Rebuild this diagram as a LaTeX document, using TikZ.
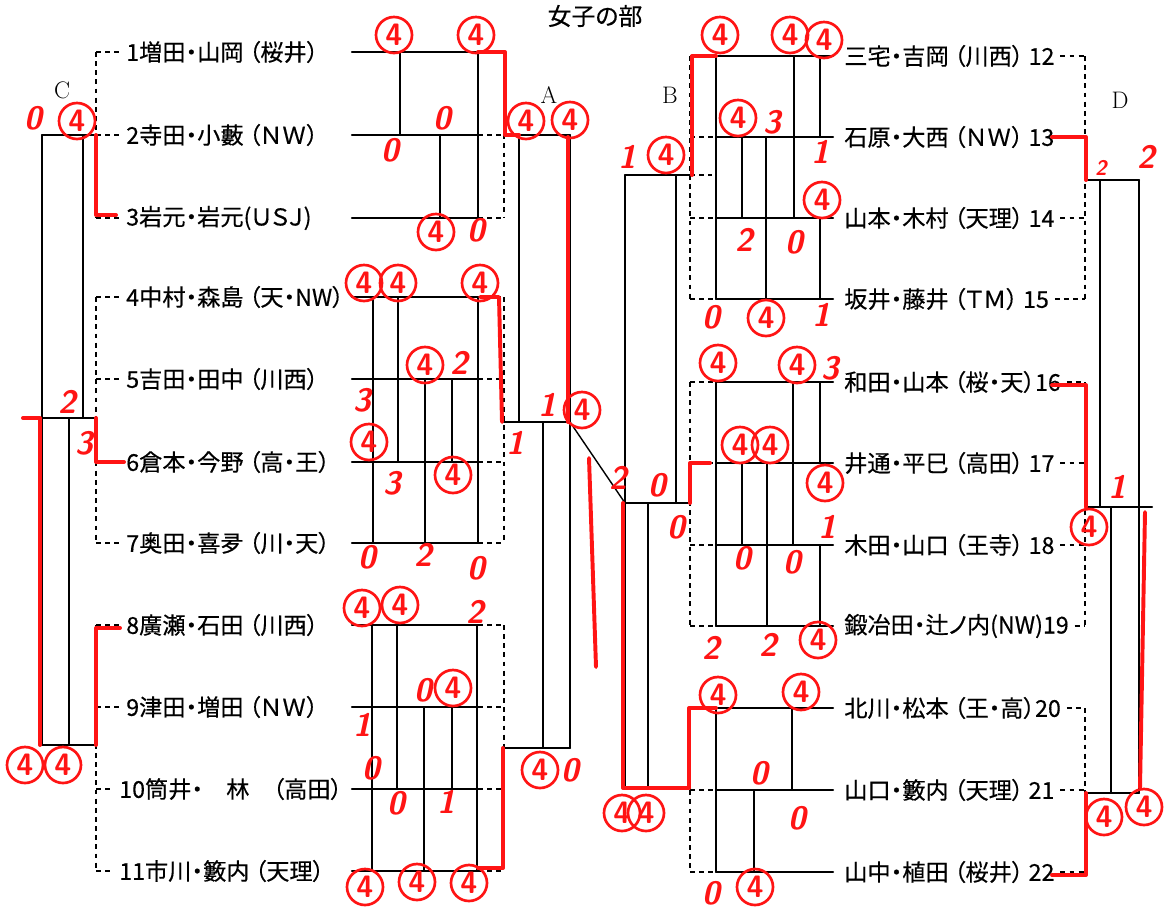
\documentclass[tikz,border=0pt]{standalone}
\usepackage{fontspec}
\newfontfamily\jpfont{Noto Sans CJK JP}[FakeBold=0.4, RawFeature=+palt]
\usepackage{xcolor}

\begin{document}
\begin{tikzpicture}[
    x=0.025cm, y=-0.025cm, % pixel grid of the scan, y downwards
    line cap=round,
    team line/.style={line width=1.7pt},
    pair line/.style={line width=1pt},
    dash line/.style={line width=1pt, dash pattern=on 3.5pt off 3pt, line cap=butt},
    red line/.style={line width=2.8pt, pen_color, line join=round},
    name style/.style={font=\jpfont\fontsize{16.5}{18}\selectfont, inner sep=0pt},
    score/.style={text=pen_color, font=\sffamily\bfseries\slshape\fontsize{23}{24}\selectfont, inner sep=0pt},
    won/.style={score, circle, draw=pen_color, line width=1.9pt, minimum size=0.9cm,
                font=\sffamily\bfseries\fontsize{22}{23}\selectfont},
    group label/.style={font=\fontsize{17}{18}\selectfont}
]

% --- 1. SETTINGS & COLORS ---
\colorlet{pen_color}{red!92!white}
\useasboundingbox (0,0) rectangle (1164,910);

% --- 2. TITLE & BRACKET LETTERS ---
\node[font=\jpfont\fontsize{17}{19}\selectfont] (title) at (595,16) {女子の部};
\node[group label] (labC) at (62,90) {C};
\node[group label] (labA) at (549,95) {A};
\node[group label] (labB) at (670,95) {B};
\node[group label] (labD) at (1120,100) {D};

% --- 3. TEAM NAMES ---
% Left side, numbers 1 to 11
\foreach \n/\x/\y/\txt in {1/126/52/{1増田・山岡 （桜井）}, 2/126/135/{2寺田・小藪 （ＮＷ）},
    3/126/218/{3岩元・岩元(ＵＳＪ)}, 4/126/297/{4中村・森島 （天・NW）},
    5/126/379/{5吉田・田中 （川西）}, 6/126/462/{6倉本・今野 （高・王）},
    7/126/543/{7奥田・喜夛 （川・天）}, 8/126/625/{8廣瀬・石田 （川西）},
    9/126/707/{9津田・増田 （ＮＷ）}, 10/119/789/{10筒井・　林　（高田）},
    11/119/871/{11市川・籔内 （天理）}}
{
    \node[name style, anchor=west] (t\n) at (\x,\y) {\txt};
    \draw[dash line] (96,\y) -- ([xshift=-4pt]t\n.west);
}
% Right side, numbers 12 to 22
\foreach \n/\y/\txt in {12/56/{三宅・吉岡 （川西） 12}, 13/137/{石原・大西 （ＮＷ） 13},
    14/218/{山本・木村 （天理） 14}, 15/299/{坂井・藤井 （ＴＭ） 15},
    16/382/{和田・山本 （桜・天）16}, 17/463/{井通・平巳 （高田） 17},
    18/545/{木田・山口 （王寺） 18}, 19/626/{鍛冶田・辻ノ内(NW)19},
    20/708/{北川・松本 （王・高）20}, 21/790/{山口・籔内 （天理） 21},
    22/872/{山中・植田 （桜井） 22}}
{
    \node[name style, anchor=west] (t\n) at (844,\y) {\txt};
    \draw[dash line] ([xshift=4pt]t\n.east) -- (1085,\y);
    \draw[dash line] (690,\y) -- (716,\y);
}

% --- 4. DASHED GROUP BRACKETS ---
\draw[dash line] (96,52) -- (96,218) (96,297) -- (96,543) (96,625) -- (96,871);
\draw[dash line] (1085,56) -- (1085,299) (1085,382) -- (1085,626) (1085,708) -- (1085,872);
\draw[dash line] (690,56) -- (690,299) (690,382) -- (690,626) (690,708) -- (690,872);
\draw[dash line] (504,52) -- (504,218) (504,297) -- (504,543) (504,625) -- (504,871);
\draw[dash line] (690,175) -- (712,175);
\foreach \y in {52,135,218,297,379,462,543,625,707,789,871}
    \draw[dash line] (478,\y) -- (504,\y);

% --- 5. LEAGUE GRIDS (LEFT) ---
\foreach \y in {52,135,218,297,379,462,543,625,707,789,871}
    \draw[team line] (352,\y) -- (478,\y);
\draw[pair line] (400,52) -- (400,135) (440,135) -- (440,218) (478,52) -- (478,218);
\draw[pair line] (373,297) -- (373,543) (398,297) -- (398,462) (425,379) -- (425,543)
    (452,379) -- (452,462) (478,297) -- (478,543);
\draw[pair line] (372,625) -- (372,871) (397,625) -- (397,789) (424,707) -- (424,871)
    (452,707) -- (452,789) (477,625) -- (477,871);

% --- 6. LEAGUE GRIDS (RIGHT) ---
\foreach \y in {56,137,218,299,382,463,545,626,708,790,872}
    \draw[team line] (716,\y) -- (833,\y);
\draw[pair line] (716,56) -- (716,299) (742,137) -- (742,218) (766,137) -- (766,299)
    (794,56) -- (794,218) (820,56) -- (820,137) (820,218) -- (820,299);
\draw[pair line] (716,382) -- (716,626) (742,463) -- (742,545) (767,463) -- (767,626)
    (793,382) -- (793,545) (820,382) -- (820,463) (820,545) -- (820,626);
\draw[pair line] (716,708) -- (716,872) (792,708) -- (792,790) (754,790) -- (754,872);

% --- 7. FINAL BRACKETS C, A, B, D ---
\draw[team line] (96,135) -- (42,135) (42,418) -- (96,418) (42,745) -- (96,745);
\draw[pair line] (42,135) -- (42,745) (83,135) -- (83,418) (69,418) -- (69,745);

\draw[team line] (504,135) -- (570,135) (504,422) -- (570,422) (504,748) -- (570,748);
\draw[pair line] (570,135) -- (570,748) (519,135) -- (519,422) (543,422) -- (543,748);
\draw[pair line] (570,422) -- (625,503);

\draw[team line] (690,175) -- (625,175) (625,503) -- (690,503) (625,788) -- (690,788);
\draw[pair line] (625,175) -- (625,788) (676,175) -- (676,503) (648,503) -- (648,788);

\draw[team line] (1086,180) -- (1139,180) (1086,507) -- (1152,507) (1086,793) -- (1139,793);
\draw[pair line] (1139,180) -- (1139,793) (1100,180) -- (1100,507) (1111,507) -- (1111,793);

% --- 8. RED PEN: WINNER PATHS ---
\draw[red line] (96,135) -- (96,215) -- (116,215);
\draw[red line] (96,418) -- (96,462) -- (124,462);
\draw[red line] (96,745) -- (96,628) -- (120,628);
\draw[red line] (23,418) -- (40,418) -- (40,745);
\draw[red line] (478,52) -- (505,52) -- (505,135) -- (519,135);
\draw[red line] (480,297) -- (499,297) -- (502,422);
\draw[red line] (478,868) -- (503,868) -- (503,748);
\draw[red line] (568,137) -- (568,422);
\draw[red line] (589,458) -- (596,667);
\draw[red line] (692,175) -- (692,56) -- (716,56);
\draw[red line] (690,503) -- (690,463) -- (710,463);
\draw[red line] (623,503) -- (623,788) -- (689,788) -- (689,708) -- (716,708);
\draw[red line] (1052,137) -- (1086,137) -- (1086,180);
\draw[red line] (1052,385) -- (1086,385) -- (1086,507);
\draw[red line] (1052,875) -- (1086,875) -- (1086,793);
\draw[red line] (1145,512) -- (1140,788);

% --- 9. RED PEN: SCORES ---
% plain figures
\foreach \x/\y/\v [count=\k] in {33/118/0, 67/402/2, 84/443/3,
    442/118/0, 390/150/0, 476/230/0,
    515/443/1, 547/405/1, 570/770/0,
    459/363/2, 362/400/3, 392/483/3, 367/557/0, 423/555/2, 476/568/0,
    475/612/2, 423/690/0, 362/725/1, 371/768/0, 396/803/0, 446/802/1,
    772/122/3, 820/152/1, 744/240/2, 794/242/0, 711/317/0, 821/315/1,
    627/157/1, 618/478/2, 657/485/0, 676/527/0,
    830/368/3, 827/527/1, 742/558/0, 792/562/0, 711/648/2, 768/645/2,
    759/773/0, 797/818/0, 711/893/0,
    1146/157/2, 1117/487/1}
    \node[score] (p\k) at (\x,\y) {\v};
\node[score, font=\sffamily\bfseries\slshape\fontsize{15}{16}\selectfont] (pD) at (1101,168) {2};
% circled figures
\foreach \x/\y/\v [count=\k] in {77/121/4, 25/765/4, 63/765/4,
    394/35/4, 476/35/4, 436/232/4,
    526/121/4, 570/120/4, 582/410/4, 540/770/4,
    364/283/4, 398/283/4, 480/283/4, 425/365/4, 369/442/4, 453/475/4,
    362/608/4, 400/605/4, 453/688/4, 365/887/4, 417/882/4, 469/883/4,
    720/35/4, 790/35/4, 824/40/4, 738/118/4, 822/200/4, 766/318/4,
    666/155/4, 622/813/4, 646/813/4,
    718/363/4, 797/365/4, 740/445/4, 770/445/4, 825/483/4, 818/640/4,
    718/695/4, 801/692/4, 755/887/4,
    1089/527/4, 1104/817/4, 1144/807/4}
    \node[won] (w\k) at (\x,\y) {\v};

\end{tikzpicture}
\end{document}
